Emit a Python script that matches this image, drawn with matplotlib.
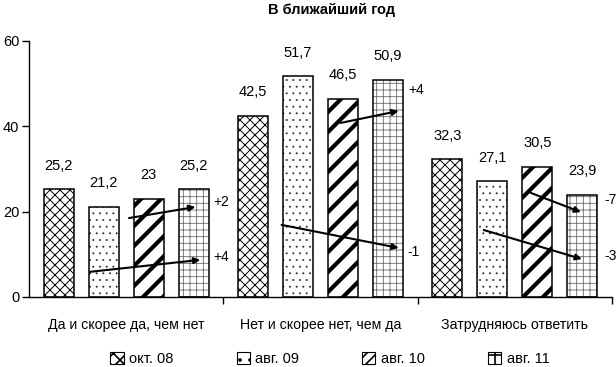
import matplotlib
matplotlib.use("Agg")
import matplotlib.pyplot as plt
import matplotlib.font_manager as fm
from matplotlib.patches import Patch
import numpy as np

categories = ["Да и скорее да, чем нет", "Нет и скорее нет, чем да", "Затрудняюсь ответить"]
series_names = ["окт. 08", "авг. 09", "авг. 10", "авг. 11"]
oct08 = [25.2, 42.5, 32.3]
aug09 = [21.2, 51.7, 27.1]
aug10 = [23.0, 46.5, 30.5]
aug11 = [25.2, 50.9, 23.9]
value_labels = [["25,2", "42,5", "32,3"], ["21,2", "51,7", "27,1"],
                ["23", "46,5", "30,5"], ["25,2", "50,9", "23,9"]]
yticks = [0, 20, 40, 60]

# change arrows (data units) and their labels
arrow_x0 = [0.015, -0.186, 1.103, 0.80, 2.082, 1.840]
arrow_y0 = [18.5, 5.9, 40.8, 16.9, 24.4, 15.7]
arrow_x1 = [0.356, 0.381, 1.402, 1.402, 2.340, 2.345]
arrow_y1 = [21.1, 8.7, 43.6, 11.5, 19.9, 8.9]
change_labels = ["+2", "+4", "+4", "-1", "-7", "-3"]
label_x = [0.448, 0.448, 1.454, 1.448, 2.460, 2.460]
label_y = [22.3, 9.4, 48.5, 10.5, 22.7, 9.6]

DPI = 120
S = 100 / DPI  # keep pixel sizes as designed for 100 dpi

avail = {f.name for f in fm.fontManager.ttflist}
fam = "Liberation Sans Narrow" if "Liberation Sans Narrow" in avail else "Liberation Sans"
plt.rcParams["font.family"] = [fam, "DejaVu Sans"]
plt.rcParams["font.size"] = 10.5 * S

fig = plt.figure(figsize=(616 / DPI, 367 / DPI), dpi=DPI)
ax = fig.add_axes([29/616, 70/367, 583/616, 256/367])

series = [oct08, aug09, aug10, aug11]
hatches = ["xxxx", "...", "//", "+++"]
hatch_lw = [0.7, 0.4, 3.0, 0.6]
hatch_col = ["black", "#222222", "black", "#6a6a6a"]
step = 45/194
width = 30/194
x = np.arange(len(categories))
for i, vals in enumerate(series):
    xs = x + (i - 1.5) * step
    with plt.rc_context({"hatch.linewidth": hatch_lw[i] * S, "hatch.color": hatch_col[i]}):
        ax.bar(xs, vals, width, color="white", edgecolor=hatch_col[i], linewidth=0,
               hatch=hatches[i], zorder=2)
    ax.bar(xs, vals, width, color="none", edgecolor="black", linewidth=1.1 * S, zorder=3)
    for xx, v, lab in zip(xs, vals, value_labels[i]):
        ax.annotate(lab, (xx, v), xytext=(0, 12 * S), textcoords="offset points",
                    ha="center", va="bottom", fontsize=10.5 * S)

for a0, b0, a1, b1 in zip(arrow_x0, arrow_y0, arrow_x1, arrow_y1):
    ax.annotate("", xy=(a1, b1), xytext=(a0, b0),
                arrowprops=dict(arrowstyle="-|>", color="black", lw=1.5 * S,
                                mutation_scale=9 * S, shrinkA=0, shrinkB=0), zorder=5)
for lx, ly, lab in zip(label_x, label_y, change_labels):
    ax.text(lx, ly, lab, ha="left", va="center", fontsize=10 * S, zorder=5)

ax.set_xlim(-0.5, 2.5)
ax.set_ylim(0, 60)
ax.set_yticks(yticks)
ax.set_yticklabels([str(t) for t in yticks], fontsize=10.5 * S)
ax.set_xticks(x)
ax.set_xticklabels(categories, fontsize=10.2 * S)
ax.tick_params(axis="x", which="major", length=0, pad=15 * S)
ax.set_xticks([0.5, 1.5, 2.5], minor=True)
ax.tick_params(axis="x", which="minor", length=5 * S, width=1 * S, direction="out")
ax.tick_params(axis="y", length=5 * S, width=1 * S, direction="out", pad=2 * S)
for s in ["top", "right"]:
    ax.spines[s].set_visible(False)
ax.spines["left"].set_linewidth(1 * S)
ax.spines["bottom"].set_linewidth(1 * S)

fig.text(331/616, 1 - 10/367, "В ближайший год", ha="center", va="center",
         fontsize=10.5 * S, fontweight="bold")

handles = []
leg_hatch = ["xxx", "..", "////", "++"]
for i in range(4):
    with plt.rc_context({"hatch.linewidth": 0.6 * S, "hatch.color": "black"}):
        handles.append(Patch(facecolor="white", edgecolor="black", hatch=leg_hatch[i],
                             linewidth=0.8 * S))
leg = fig.legend(handles, series_names, loc="center", bbox_to_anchor=(330/616, 1 - 359/367),
                 ncol=4, frameon=False, handlelength=0.9, handleheight=0.9,
                 columnspacing=4.3, handletextpad=0.4, fontsize=10.5 * S)

fig.savefig("out.png", dpi=DPI)
